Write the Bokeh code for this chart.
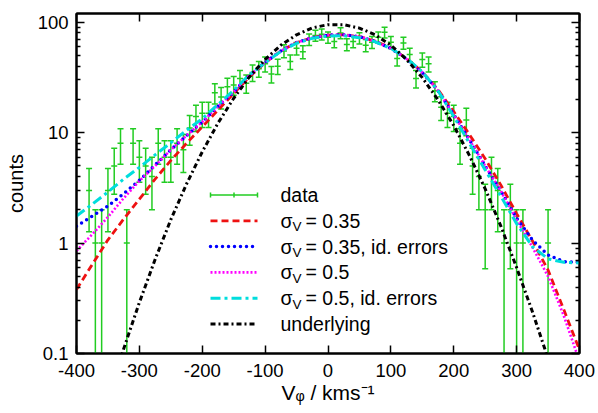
import numpy as np
from bokeh.plotting import figure
from bokeh.models import (ColumnDataSource, FixedTicker, Range1d, LinearAxis, LogAxis,
                          Label, Arrow, TeeHead)
from bokeh.embed import file_html
from bokeh.resources import INLINE

# ---------------- data ----------------
vphi_bins = [-380, -370, -360, -350, -340, -330, -320, -310, -300, -290, -280, -270,
             -260, -250, -240, -230, -220, -210, -200, -190, -180, -170, -160, -150,
             -140, -130, -120, -110, -100, -90, -80, -70, -60, -50, -40, -30, -20,
             -10, 0, 10, 20, 30, 40, 50, 60, 70, 80, 90, 100, 110, 120, 130, 140,
             150, 160, 170, 180, 190, 200, 210, 220, 230, 240, 250, 260, 270, 280,
             290, 300, 310, 350]
counts = [3, 1, 1, 3, 5, 8, 1, 8, 6, 5, 4, 8,
          6, 6, 8, 7, 11, 14, 15, 15, 23, 21, 26, 27,
          31, 28, 35, 38, 42, 34, 40, 55, 44, 58, 54, 70, 76,
          78, 73, 67, 80, 63, 67, 72, 62, 66, 73, 81, 66, 47, 65, 51, 31,
          46, 42, 24, 17, 15, 14, 8, 13, 5, 4, 2, 4, 3, 1,
          2, 1, 1, 1]

curve_x = [-400, -375, -350, -325, -300, -275, -250, -225, -200, -175, -150, -125,
           -100, -75, -50, -25, 0, 25, 50, 75, 100, 125, 150, 175, 200, 225, 250,
           275, 300, 325, 350, 375, 400]
sigma035 = [0.38, 0.64, 1.07, 1.65, 2.5, 3.8, 5.6, 8.0, 11.3, 16.0, 22.6, 32.0,
            43.0, 55.0, 65.5, 72.5, 76.5, 77.0, 74.0, 67.5, 58.5, 47.0, 35.5, 24.5,
            15.5, 9.6, 5.8, 3.35, 1.85, 1.05, 0.57, 0.25, 0.108]
sigma035_id = [1.42, 1.75, 2.17, 2.8, 3.7, 5.1, 7.0, 9.4, 12.5, 17.3, 23.4, 33.0,
               43.5, 55.0, 65.5, 72.5, 76.5, 77.0, 74.0, 67.0, 58.0, 46.5, 35.0, 24.0,
               14.5, 8.6, 5.0, 2.95, 1.68, 1.07, 0.78, 0.68, 0.67]
sigma05 = [0.85, 1.2, 1.72, 2.55, 3.65, 5.0, 7.0, 9.4, 12.5, 17.3, 23.4, 33.0,
           43.5, 55.0, 65.5, 72.5, 76.5, 77.0, 74.0, 67.0, 58.0, 46.5, 35.0, 24.0,
           14.5, 8.6, 5.0, 2.95, 1.62, 0.92, 0.5, 0.22, 0.085]
sigma05_id = [1.76, 2.25, 2.9, 3.8, 4.85, 6.3, 8.1, 10.5, 13.4, 18.0, 24.2, 33.5,
              43.0, 54.5, 64.5, 71.5, 75.0, 75.5, 72.5, 66.5, 58.0, 47.0, 35.5, 24.0,
              14.0, 8.0, 4.6, 2.65, 1.5, 0.93, 0.72, 0.67, 0.66]
underlying_x = [-350, -325, -300, -275, -250, -225, -200, -175, -150, -125, -100, -75,
                -50, -25, 0, 25, 50, 75, 100, 125, 150, 175, 200, 225, 250, 275, 300,
                325, 350, 375]
underlying = [0.0385, 0.11, 0.29, 0.71, 1.63, 3.43, 6.7, 12.2, 20.5, 32.0, 46.0, 62.0,
              77.0, 89.0, 95.0, 95.0, 88.5, 77.0, 62.0, 46.0, 31.5, 19.8, 11.6, 6.2,
              3.1, 1.42, 0.60, 0.24, 0.09, 0.033]

x_ticks = [-400, -300, -200, -100, 0, 100, 200, 300, 400]
x_tick_labels = ["-400", "-300", "-200", "-100", "0", "100", "200", "300", "400"]
y_ticks = [0.1, 1, 10, 100]
y_tick_labels = ["0.1", "1", "10", "100"]
y_minor = [0.2, 0.3, 0.4, 0.5, 0.6, 0.7, 0.8, 0.9, 2, 3, 4, 5, 6, 7, 8, 9,
           20, 30, 40, 50, 60, 70, 80, 90]

legend_labels = ["data", "0.35", "0.35, id. errors", "0.5", "0.5, id. errors", "underlying"]
x_title = "V\u1d69 / kms\u207b\u00b9"
y_title = "counts"

# ---------------- styles ----------------
FONT = "Liberation Sans"
GREEN = "#22cc22"
RED = "#ee1111"
BLUE = "#0000ff"
MAGENTA = "#ff00ff"
CYAN = "#00dddd"
BLACK = "#000000"
LEG_FS = "19.5px"

cnt = np.array(counts, dtype=float)
err = np.sqrt(cnt)
src = ColumnDataSource(dict(x=vphi_bins, y=cnt,
                            lo=np.maximum(cnt - err, 1e-3), hi=cnt + err))

p = figure(width=598, height=413, y_axis_type="log",
           x_range=Range1d(-400, 400), y_range=Range1d(0.1, 120),
           output_backend="svg", toolbar_location=None,
           min_border_left=76, min_border_right=19, min_border_top=13,
           min_border_bottom=60)
p.grid.visible = False
p.outline_line_color = "black"
p.outline_line_width = 2

# data with error bars
p.segment(x0="x", y0="lo", x1="x", y1="hi", source=src, line_color=GREEN, line_width=1.5)
for col in ("hi", "lo", "y"):
    p.scatter(x="x", y=col, source=src, marker="dash", size=6,
              line_color=GREEN, line_width=1.5)

# model curves
p.line(curve_x, sigma035, line_color=RED, line_width=2.8, line_dash="7 4")
p.line(curve_x, sigma035_id, line_color=BLUE, line_width=3.5, line_dash="0 6", line_cap="round")
p.line(curve_x, sigma05, line_color=MAGENTA, line_width=2.6, line_dash="2 2")
p.line(curve_x, sigma05_id, line_color=CYAN, line_width=3, line_dash="10 4 3 4")
p.line(underlying_x, underlying, line_color=BLACK, line_width=3, line_dash="5 3 2 3")

# axes
def style_axis(ax, ticks, labels, minor=None, show_labels=True):
    ax.ticker = FixedTicker(ticks=ticks, minor_ticks=minor or [])
    ax.major_label_overrides = {t: l for t, l in zip(ticks, labels)}
    ax.axis_line_width = 2
    ax.axis_line_color = "black"
    ax.major_tick_in = 8
    ax.major_tick_out = 0
    ax.major_tick_line_width = 1.5
    ax.minor_tick_in = 4
    ax.minor_tick_out = 0
    ax.minor_tick_line_width = 1.5
    if not minor:
        ax.minor_tick_line_color = None
    ax.major_label_text_font = FONT
    if show_labels:
        ax.major_label_text_font_size = "18.5px"
        ax.major_label_text_color = "black"
    else:
        ax.major_label_text_font_size = "1px"
        ax.major_label_text_color = None
        ax.major_label_standoff = 0

xa = p.xaxis[0]
style_axis(xa, x_ticks, x_tick_labels)
xa.major_label_standoff = 10
xa.axis_label = x_title
xa.axis_label_text_font = FONT
xa.axis_label_text_font_size = "21px"
xa.axis_label_text_font_style = "normal"
xa.axis_label_text_color = "black"
xa.axis_label_standoff = 1

ya = p.yaxis[0]
style_axis(ya, y_ticks, y_tick_labels, y_minor)
ya.major_label_standoff = 8
ya.axis_label = y_title
ya.axis_label_text_font = FONT
ya.axis_label_text_font_size = "20px"
ya.axis_label_text_font_style = "normal"
ya.axis_label_text_color = "black"
ya.axis_label_standoff = 8

top = LinearAxis()
style_axis(top, x_ticks, x_tick_labels, show_labels=False)
p.add_layout(top, "above")
right = LogAxis()
style_axis(right, y_ticks, y_tick_labels, y_minor, show_labels=False)
p.add_layout(right, "right")

# legend (manual, screen units relative to the frame)
def lab(txt, x, y, size, baseline="middle"):
    p.add_layout(Label(x=x, y=y, x_units="screen", y_units="screen", text=txt,
                       text_font=FONT, text_font_size=size, text_color="black",
                       text_baseline=baseline, text_align="left"))

rows = [158.5, 132.7, 106.9, 81.1, 55.3, 29.5]
sx0, sx1, tx = 134, 181, 204
styles = [(RED, 2.8, "7 4", "butt"), (BLUE, 3.5, "0 6", "round"),
          (MAGENTA, 2.6, "2 2", "butt"), (CYAN, 3, "10 4 3 4", "butt"),
          (BLACK, 3, "5 3 2 3", "butt")]
p.add_layout(Arrow(x_start=sx0, y_start=rows[0], x_end=sx1, y_end=rows[0],
                   start_units="screen", end_units="screen",
                   start=TeeHead(size=5, line_color=GREEN, line_width=1.5),
                   end=TeeHead(size=5, line_color=GREEN, line_width=1.5),
                   line_color=GREEN, line_width=1.5))
mid = (sx0 + sx1) / 2
p.add_layout(Arrow(x_start=mid, y_start=rows[0] - 2.5, x_end=mid, y_end=rows[0] + 2.5,
                   start_units="screen", end_units="screen", end=None,
                   line_color=GREEN, line_width=1.5))
lab(legend_labels[0], tx, rows[0], LEG_FS)
for i, (col, lw, dash, cap) in enumerate(styles, start=1):
    p.add_layout(Arrow(x_start=sx0, y_start=rows[i], x_end=sx1, y_end=rows[i],
                       start_units="screen", end_units="screen", end=None,
                       line_color=col, line_width=lw, line_dash=dash, line_cap=cap))
    if i < 5:
        lab("\u03c3", tx, rows[i], LEG_FS)
        lab("V", tx + 12, rows[i] - 6, "13.5px")
        lab("= " + legend_labels[i], tx + 25, rows[i], LEG_FS)
    else:
        lab(legend_labels[i], tx, rows[i], LEG_FS)

open("out.html", "w").write(file_html(p, INLINE))
